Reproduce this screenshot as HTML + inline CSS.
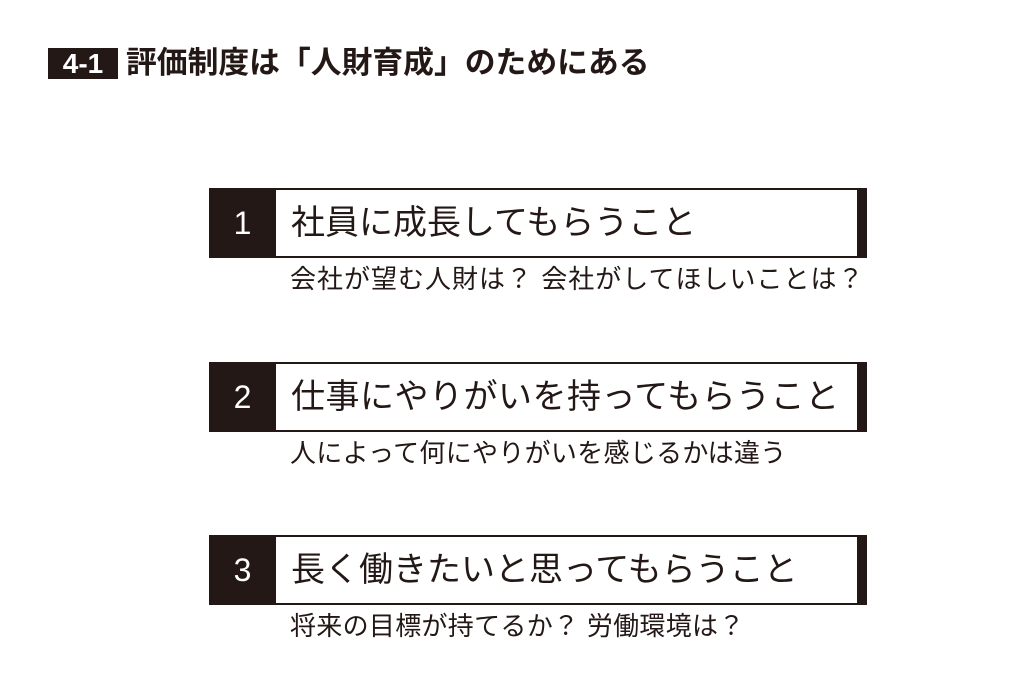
<!DOCTYPE html>
<html><head><meta charset="utf-8"><style>
body{margin:0;width:1024px;height:682px;background:#fff;position:relative;overflow:hidden;font-family:"Liberation Sans","Noto Sans CJK JP",sans-serif;color:#231815}
.tag{position:absolute;left:48px;top:48px;width:70px;height:31px;background:#231815;color:#fff;font-weight:bold;font-size:28px;line-height:31px;text-align:center}
.title{position:absolute;left:126px;top:44px;font-size:30.8px;font-weight:bold;line-height:38px;white-space:nowrap;letter-spacing:0}
.box{position:absolute;left:209px;width:648px;height:66px;border-top:2px solid #231815;border-bottom:2px solid #231815;border-right:10px solid #231815;box-sizing:content-box}
.num{position:absolute;left:0;top:0;width:67px;height:66px;background:#231815;color:#fff;font-size:32px;line-height:66px;text-align:center}
.main{position:absolute;left:82px;top:0;font-size:34px;line-height:66px;white-space:nowrap}
.sub{position:absolute;left:290px;font-size:26px;white-space:nowrap;line-height:30px;letter-spacing:0.3px}
</style></head><body>
<div class="tag">4-1</div>
<div class="title">評価制度は「人財育成」のためにある</div>

<div class="box" style="top:188px"><div class="num">1</div><div class="main">社員に成長してもらうこと</div></div>
<div class="sub" style="top:264px;letter-spacing:1px">会社が望む人財は？ 会社がしてほしいことは？</div>

<div class="box" style="top:362px"><div class="num">2</div><div class="main" style="letter-spacing:0.5px">仕事にやりがいを持ってもらうこと</div></div>
<div class="sub" style="top:438px">人によって何にやりがいを感じるかは違う</div>

<div class="box" style="top:535px"><div class="num">3</div><div class="main">長く働きたいと思ってもらうこと</div></div>
<div class="sub" style="top:611px">将来の目標が持てるか？ 労働環境は？</div>
</body></html>
